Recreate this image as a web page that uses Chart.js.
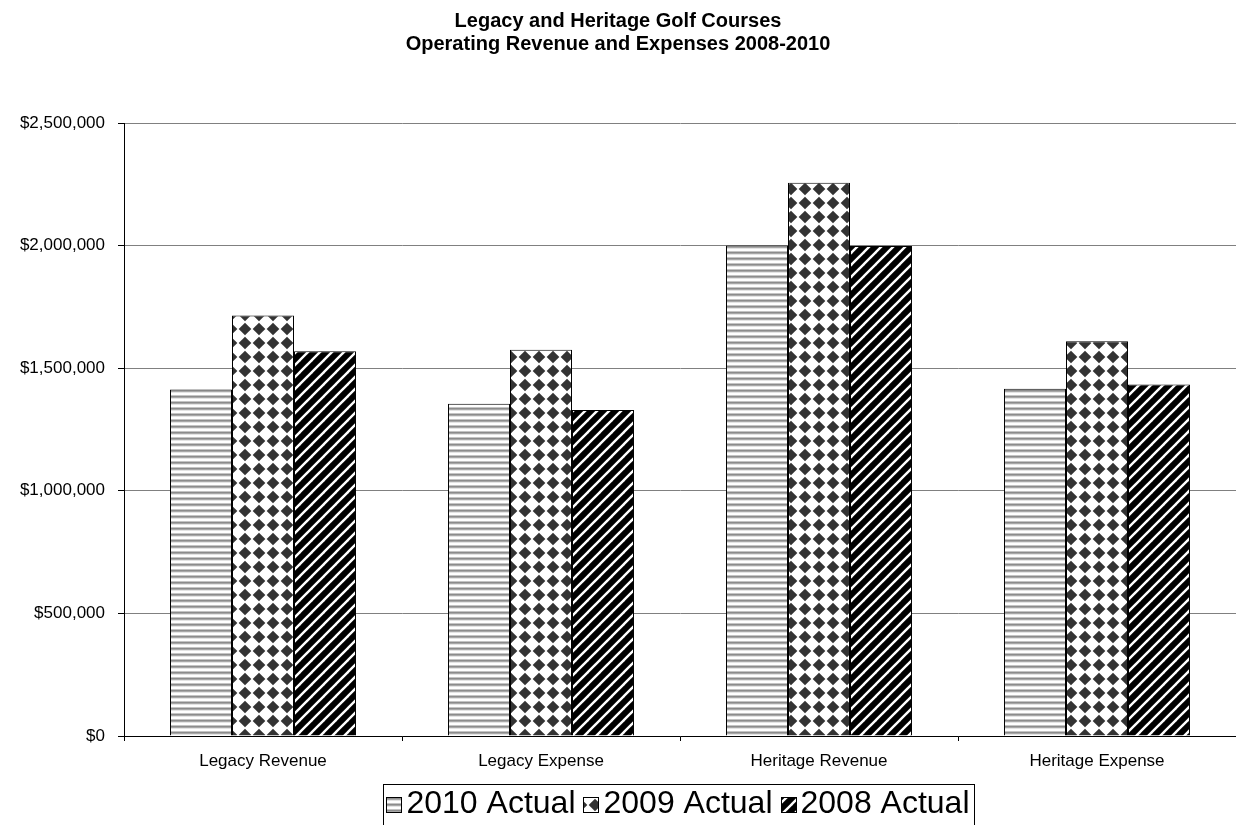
<!DOCTYPE html>
<html>
<head>
<meta charset="utf-8">
<script src="https://cdn.jsdelivr.net/npm/chart.js@4/dist/chart.umd.min.js"></script>
<style>
  html, body { margin: 0; padding: 0; background: #fff; }
  canvas { display: block; }
</style>
</head>
<body>
<canvas id="c" width="1236" height="825"></canvas>
<script>
// ---- data ----
const categories = ['Legacy Revenue', 'Legacy Expense', 'Heritage Revenue', 'Heritage Expense'];
const seriesNames = ['2010 Actual', '2009 Actual', '2008 Actual'];
const actual2010 = [1413000, 1355000, 2000000, 1416000];
const actual2009 = [1715000, 1575000, 2256000, 1610000];
const actual2008 = [1569000, 1330000, 1998000, 1434000];
const titleLines = ['Legacy and Heritage Golf Courses', 'Operating Revenue and Expenses 2008-2010'];
const yMin = 0, yMax = 2500000, yStep = 500000;

// ---- patterns ----
function makeTile(w, h, draw) {
  const c = document.createElement('canvas');
  c.width = w; c.height = h;
  const x = c.getContext('2d');
  draw(x, w, h);
  return c;
}
const ctx = document.getElementById('c').getContext('2d');

const stripeTile = makeTile(6, 6, (x, w, h) => {
  const rows = ['#8c8c8c', '#a8a8a8', '#e4e4e4', '#ffffff', '#ffffff', '#c4c4c4'];
  rows.forEach((col, i) => { x.fillStyle = col; x.fillRect(0, i, w, 1); });
});
const diamondTile = makeTile(14, 14, (x, w, h) => {
  x.fillStyle = '#fff'; x.fillRect(0, 0, w, h);
  x.fillStyle = '#333';
  const r = 6.3, cx = 7, cy = 7;
  x.beginPath();
  x.moveTo(cx, cy - r); x.lineTo(cx + r, cy); x.lineTo(cx, cy + r); x.lineTo(cx - r, cy);
  x.closePath(); x.fill();
});
const diagTile = makeTile(12, 12, (x, w, h) => {
  x.fillStyle = '#000'; x.fillRect(0, 0, w, h);
  x.strokeStyle = '#fff'; x.lineWidth = 2.4;
  for (let k = -1; k <= 1; k++) {
    x.beginPath();
    x.moveTo(-2 + k * 12, h + 2);
    x.lineTo(w + 2 + k * 12, -2);
    x.stroke();
  }
});
const patterns = [
  ctx.createPattern(stripeTile, 'repeat'),
  ctx.createPattern(diamondTile, 'repeat'),
  ctx.createPattern(diagTile, 'repeat')
];

const FONT = '"Liberation Sans", Arial, Helvetica, sans-serif';
const LEGEND_FONT = 32;
const MARKER = 15;

// place the legend where the original has it, draw its markers and frame
const legendFrame = {
  id: 'legendFrame',
  afterLayout(chart) {
    const lg = chart.legend;
    if (!lg) return;
    const h = lg.height;
    lg.top = 780;
    lg.bottom = lg.top + h;
    lg.left -= 2;
    lg.right -= 2;
  },
  afterDraw(chart) {
    const lg = chart.legend;
    if (!lg || !lg.legendHitBoxes || !lg.legendHitBoxes.length) return;
    const hb = lg.legendHitBoxes;
    const c = chart.ctx;
    c.save();
    // markers
    hb.forEach((b, i) => {
      const ds = chart.data.datasets[i];
      const mx = Math.round(b.left) + 0.5;
      const my = Math.round(b.top + b.height / 2 - MARKER / 2) + 0.5;
      c.fillStyle = ds.backgroundColor;
      c.fillRect(mx, my, MARKER, MARKER);
      c.strokeStyle = '#000';
      c.lineWidth = 1;
      c.strokeRect(mx, my, MARKER, MARKER);
    });
    // frame
    const first = hb[0], last = hb[hb.length - 1];
    const left = first.left - 3, right = last.left + last.width + 5;
    c.strokeStyle = '#000';
    c.lineWidth = 1;
    c.strokeRect(Math.round(left) + 0.5, 784.5, Math.round(right - left), 60);
    c.restore();
  }
};

new Chart(ctx, {
  type: 'bar',
  data: {
    labels: categories,
    datasets: seriesNames.map((name, i) => ({
      label: name,
      data: [actual2010, actual2009, actual2008][i],
      backgroundColor: patterns[i],
      borderColor: '#000',
      borderWidth: 1
    }))
  },
  options: {
    responsive: false,
    animation: false,
    layout: { padding: 0 },
    datasets: { bar: { categoryPercentage: 0.669, barPercentage: 1.0 } },
    plugins: {
      tooltip: { enabled: false },
      title: {
        display: true,
        text: titleLines,
        color: '#000',
        font: { family: FONT, size: 20, weight: 'bold', lineHeight: 1.15 },
        padding: { top: 10, bottom: 67 }
      },
      legend: {
        position: 'bottom',
        fullSize: false,
        align: 'center',
        labels: {
          color: '#000',
          font: { family: FONT, size: LEGEND_FONT },
          boxWidth: 4,
          boxHeight: 1,
          padding: 8,
          generateLabels(chart) {
            return chart.data.datasets.map((ds, i) => ({
              text: ds.label,
              fillStyle: 'rgba(0,0,0,0)',
              strokeStyle: 'rgba(0,0,0,0)',
              lineWidth: 0,
              fontColor: '#000',
              hidden: false,
              datasetIndex: i
            }));
          }
        }
      }
    },
    scales: {
      x: {
        offset: true,
        grid: { display: true, drawOnChartArea: false, drawTicks: true, tickLength: 5, color: '#000', offset: true },
        border: { display: true, color: '#000', width: 1 },
        ticks: { color: '#000', font: { family: FONT, size: 17 }, padding: 10, maxRotation: 0 },
        afterFit(scale) {
          const lg = scale.chart.legend;
          const lh = (lg && lg.height) ? lg.height : 51;
          scale.height = 90 - lh;
        }
      },
      y: {
        min: yMin, max: yMax,
        grid: { color: '#808080', lineWidth: 1, tickLength: 6, tickColor: '#000' },
        border: { display: true, color: '#000', width: 1 },
        ticks: {
          stepSize: yStep,
          color: '#000',
          font: { family: FONT, size: 17 },
          padding: 13,
          callback: v => '$' + Number(v).toLocaleString('en-US')
        },
        afterFit(scale) { scale.width = 124; }
      }
    }
  },
  plugins: [legendFrame]
});
</script>
</body>
</html>
